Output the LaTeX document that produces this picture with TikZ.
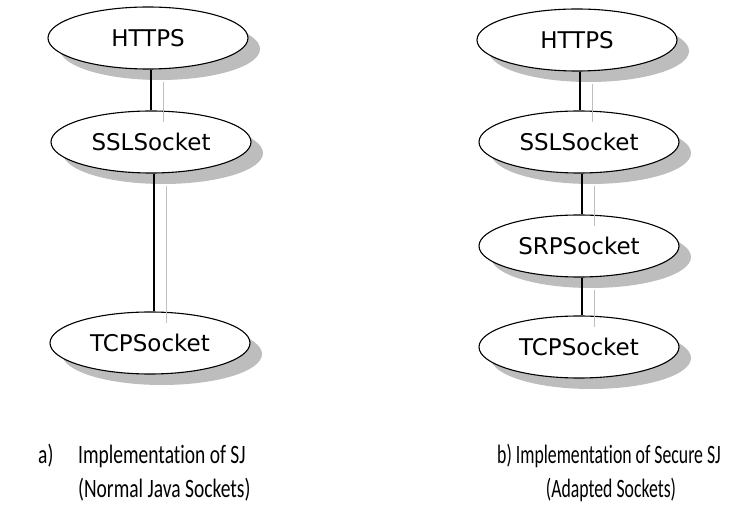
\documentclass[tikz,border=0pt]{standalone}
\usepackage{fontspec}
\setmainfont{DejaVu Sans}
\newfontfamily\captionfont[Ligatures={NoCommon}]{Carlito}
\usetikzlibrary{shapes.geometric,shadows}
\begin{document}
\begin{tikzpicture}[x=1pt,y=1pt,
  layer/.style={ellipse, draw=black, line width=1.1pt, fill=white,
    minimum width=200pt, minimum height=62pt, inner sep=0pt,
    font=\fontsize{23}{27}\selectfont,
    drop shadow={shadow xshift=12pt, shadow yshift=-11pt, fill=black!26, opacity=1}},
  link/.style={line width=1.3pt, black},
  linkshade/.style={line width=0.9pt, black!25},
  caption/.style={font=\captionfont\fontsize{19.5}{24}\selectfont, inner sep=0pt}]
\useasboundingbox (0,0) rectangle (729,504);

% left stack: plain Java sockets
\node[layer] (lh) at (148,466) {HTTPS};
\node[layer] (ls) at (151,362) {SSLSocket};
\node[layer] (lt) at (150,161) {TCPSocket};

% right stack: adapted sockets
\node[layer] (rh) at (577,464) {HTTPS};
\node[layer] (rs) at (579,362) {SSLSocket};
\node[layer] (rr) at (579,258) {SRPSocket};
\node[layer] (rt) at (579,157) {TCPSocket};

% links with their faint offset shade
\foreach \a/\b in {lh/ls, ls/lt, rh/rs, rs/rr, rr/rt}{
  \draw[linkshade] ([shift={(15.5pt,-12pt)}]\a.south) -- ([shift={(15.5pt,-12pt)}]\a.south |- \b.north);
  \draw[link] ([xshift=3pt]\a.south) -- ([xshift=3pt]\a.south |- \b.north);
}

% captions (tall, narrow lettering)
\node[caption, anchor=base west] (ca) at (38,41) {\scalebox{1}[1.36]{a)}};
\node[caption, anchor=base west] (ca1) at (78,41) {\scalebox{1}[1.36]{Implementation of SJ}};
\node[caption, anchor=base west] (ca2) at (78,7) {\scalebox{1}[1.36]{(Normal Java Sockets)}};
\node[caption, anchor=base west] (cb1) at (497,41) {\scalebox{0.91}[1.36]{b) Implementation of Secure SJ}};
\node[caption, anchor=base] (cb2) at (611,7) {\scalebox{0.91}[1.36]{(Adapted Sockets)}};
\end{tikzpicture}
\end{document}
